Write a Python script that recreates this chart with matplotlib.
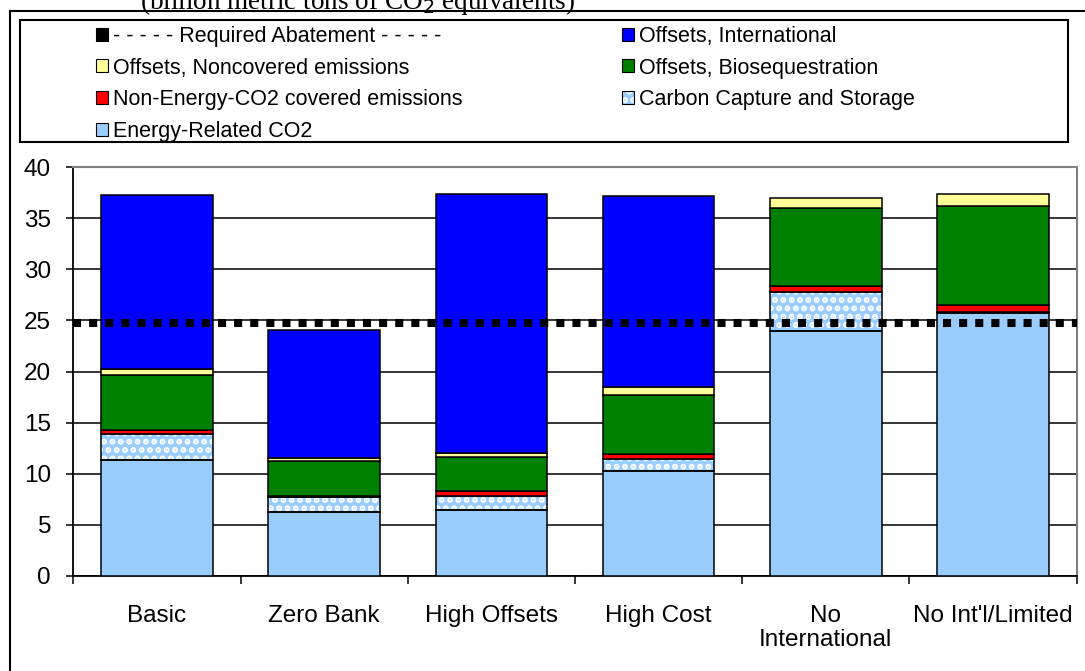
import matplotlib
matplotlib.use("Agg")
import matplotlib.pyplot as plt
from matplotlib.patches import Patch, Rectangle
from matplotlib.lines import Line2D
import numpy as np

# ---------------- data ----------------
categories = ["Basic", "Zero Bank", "High Offsets", "High Cost", "No\nInternational", "No Int'l/Limited"]
energy_related = [11.3, 6.3, 6.45, 10.3, 24.0, 25.7]
ccs = [2.6, 1.4, 1.4, 1.1, 3.8, 0.1]
non_energy = [0.4, 0.15, 0.45, 0.5, 0.55, 0.7]
bioseq = [5.35, 3.35, 3.3, 5.8, 7.65, 9.7]
noncovered = [0.55, 0.3, 0.45, 0.75, 0.95, 1.15]
international = [17.1, 12.6, 25.3, 18.75, 0.0, 0.0]
required_abatement = 24.7
y_ticks = [0, 5, 10, 15, 20, 25, 30, 35, 40]
title_text = "(billion metric tons of CO$_2$ equivalents)"

plt.rcParams['font.family'] = ['Liberation Sans', 'DejaVu Sans']
plt.rcParams['hatch.linewidth'] = 3.0

W, H = 1085, 671
fig = plt.figure(figsize=(W / 100, H / 100), dpi=100)
fig.patch.set_facecolor('white')

def fx(px):
    return px / W

def fy(py):
    return 1 - py / H

ax = fig.add_axes([fx(73.3), fy(576), fx(1076.7) - fx(73.3), fy(167) - fy(576)])

x = np.arange(len(categories))
bw = 0.667

c_energy = '#99CCFF'
c_ccs = '#99CCFF'
c_red = '#FF0000'
c_green = '#008000'
c_yellow = '#FFFF99'
c_blue = '#0000FF'

series = [
    (energy_related, c_energy, None),
    (ccs, c_ccs, '..'),
    (non_energy, c_red, None),
    (bioseq, c_green, None),
    (noncovered, c_yellow, None),
    (international, c_blue, None),
]

bottom = np.zeros(len(categories))
for vals, col, hatch in series:
    v = np.array(vals, dtype=float)
    if hatch:
        ax.bar(x, v, bw, bottom=bottom, color=col, edgecolor='white', hatch=hatch,
               linewidth=0, zorder=2)
        ax.bar(x, v, bw, bottom=bottom, fill=False, edgecolor='black', linewidth=1.1, zorder=3)
    else:
        mask = v > 0
        ax.bar(x[mask], v[mask], bw, bottom=bottom[mask], color=col, edgecolor='black',
               linewidth=1.1, zorder=3)
    bottom += v

ax.axhline(required_abatement, color='black', linewidth=5.8, linestyle=(0, (1, 1)),
           dash_capstyle='butt', zorder=4)

ax.set_xlim(-0.5, len(categories) - 0.5)
ax.set_ylim(0, 40)
ax.set_yticks(y_ticks)
ax.yaxis.grid(True, color='black', linewidth=1.1)
ax.set_axisbelow(True)
ax.tick_params(axis='y', direction='out', length=5, width=1.1, labelsize=17.5, pad=11)

ax.set_xticks(x)
ax.set_xticklabels(categories, fontsize=17.5, linespacing=1.1)
ax.tick_params(axis='x', which='major', length=0, pad=21)
ax.set_xticks(np.arange(-0.5, len(categories)), minor=True)
ax.tick_params(axis='x', which='minor', direction='out', length=6, width=1.1)

for s in ['left', 'bottom']:
    ax.spines[s].set_color('black')
    ax.spines[s].set_linewidth(1.3)
for s in ['top', 'right']:
    ax.spines[s].set_color('#808080')
    ax.spines[s].set_linewidth(1.5)

# outer chart frame (left and top edges visible)
fig.add_artist(Line2D([fx(10), fx(10)], [fy(11), 0], color='black', linewidth=1.5,
                      transform=fig.transFigure))
fig.add_artist(Line2D([fx(10), 1], [fy(11), fy(11)], color='black', linewidth=1.5,
                      transform=fig.transFigure))

# legend frame
fig.add_artist(Rectangle((fx(20), fy(142)), fx(1068) - fx(20), fy(20) - fy(142),
                         fill=False, edgecolor='black', linewidth=1.5,
                         transform=fig.transFigure))

# clipped title at top
fig.text(fx(140), fy(9), title_text, family=['Liberation Serif', 'DejaVu Serif'],
         fontsize=19.5, ha='left', va='baseline')

# legends
h_req = Patch(facecolor='black', edgecolor='black', linewidth=0.8)
h_yel = Patch(facecolor=c_yellow, edgecolor='black', linewidth=0.8)
h_red = Patch(facecolor=c_red, edgecolor='black', linewidth=0.8)
h_eng = Patch(facecolor=c_energy, edgecolor='black', linewidth=0.8)
h_int = Patch(facecolor=c_blue, edgecolor='black', linewidth=0.8)
h_bio = Patch(facecolor=c_green, edgecolor='black', linewidth=0.8)
h_ccs = (Patch(facecolor=c_ccs, edgecolor='white', hatch='..', linewidth=0),
         Patch(fill=False, edgecolor='black', linewidth=0.8))

leg_kw = dict(frameon=False, fontsize=15.5, handlelength=0.55, handleheight=0.55,
              handletextpad=0.25, labelspacing=0.49, borderpad=0, borderaxespad=0,
              loc='upper left')
leg1 = fig.legend([h_req, h_yel, h_red, h_eng],
                  ["- - - - - Required Abatement - - - - -", "Offsets, Noncovered emissions",
                   "Non-Energy-CO2 covered emissions", "Energy-Related CO2"],
                  bbox_to_anchor=(fx(96), fy(26)), **leg_kw)
leg2 = fig.legend([h_int, h_bio, h_ccs],
                  ["Offsets, International", "Offsets, Biosequestration",
                   "Carbon Capture and Storage"],
                  bbox_to_anchor=(fx(622), fy(26)), **leg_kw)

fig.savefig('out.png', dpi=100)
